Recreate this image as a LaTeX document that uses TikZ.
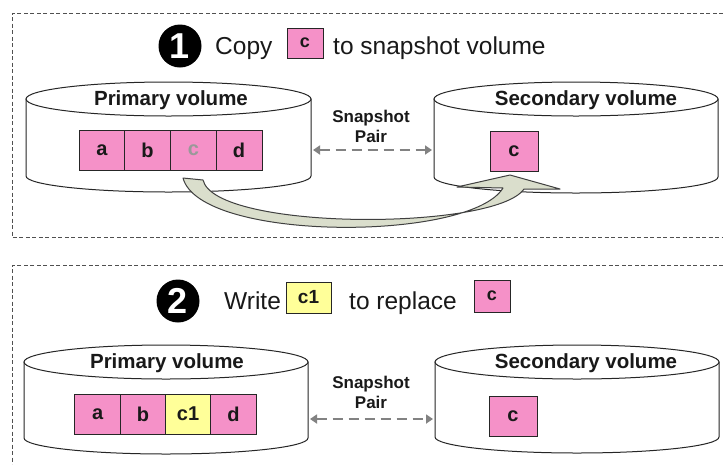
\documentclass[tikz,border=0pt]{standalone}
\usepackage{fontspec}
\setmainfont{Liberation Sans}
\usetikzlibrary{arrows.meta}
\definecolor{pinkblk}{RGB}{245,145,200}
\definecolor{yelblk}{RGB}{255,255,153}
\definecolor{arrowfill}{RGB}{218,222,204}
\definecolor{pairgray}{RGB}{130,130,130}
\definecolor{framegray}{RGB}{80,80,80}
\newcommand\drawcyl[4]{%
  \pgfmathsetmacro\cylcx{(#1+#2)/2}%
  \pgfmathsetmacro\cylrx{(#2-#1)/2}%
  \draw[cylline,fill=white] (#1,#3) -- (#1,#4) arc[start angle=180,end angle=360,x radius=\cylrx pt,y radius=16pt] -- (#2,#3) -- cycle;
  \draw[cylline,fill=white] (\cylcx,#3) ellipse[x radius=\cylrx pt,y radius=17pt];
}
\begin{document}
\begin{tikzpicture}[x=1pt,y=-1pt,
  frame/.style={draw=framegray,line width=0.9pt,dash pattern=on 4pt off 2.5pt},
  cylline/.style={draw=black!85,line width=1pt},
  blk/.style={draw=black!85,line width=0.9pt,minimum width=45.75pt,minimum height=40pt,inner sep=0pt,
    font=\fontsize{20}{22}\selectfont\bfseries,text=black!90},
  pinkb/.style={blk,fill=pinkblk},
  yelb/.style={blk,fill=yelblk},
  vollabel/.style={font=\fontsize{20.5}{22}\selectfont\bfseries,text=black!90},
  titletext/.style={font=\fontsize{24.5}{26}\selectfont,text=black!90,anchor=base west,inner sep=0pt},
  numcirc/.style={circle,fill=black,minimum size=43pt,inner sep=0pt,text=white,
    font=\fontsize{36}{36}\selectfont\bfseries},
  pairlabel/.style={align=center,font=\fontsize{17}{20}\selectfont\bfseries,text=black!90},
  pairarrow/.style={draw=pairgray,line width=2.8pt,dash pattern=on 10pt off 6pt,
    {Triangle[width=9pt,length=7pt]}-{Triangle[width=9pt,length=7pt]}},
  bigarrow/.style={draw=black!75,line width=1pt,fill=arrowfill,line join=round}]
\useasboundingbox (0,0) rectangle (723,464);
\fill[white] (0,0) rectangle (723,464);

% ---------- frames ----------
\draw[frame] (723,13) -- (12,13) -- (12,237) -- (723,237);
\draw[frame] (723,265) -- (12,265) -- (12,464);

% ---------- panel 1 ----------
\node[numcirc] (n1) at (180,46) {1};
\node[titletext] (t1a) at (215,54) {Copy};
\node[pinkb,minimum width=36pt,minimum height=30pt,font=\fontsize{18}{20}\selectfont\bfseries] (t1c) at (305,43) {c};
\node[titletext] (t1b) at (333,54) {to snapshot volume};

\drawcyl{26}{311}{99}{176}
\drawcyl{434}{718}{99}{177}
\node[vollabel] (pv1) at (171,100) {Primary volume};
\node[vollabel] (sv1) at (586,100) {Secondary volume};

\node[pinkb] (p1a) at (101.9,150) {a};
\node[pinkb] (p1b) at (147.6,150) {b};
\node[pinkb,text=black!40] (p1c) at (193.4,150) {c};
\node[pinkb] (p1d) at (239.1,150) {d};
\node[pinkb,minimum width=48pt] (s1c) at (514,151) {c};

\node[pairlabel] (sp1) at (371,126) {Snapshot\\Pair};
\coordinate (p1r) at (313,150);
\coordinate (s1l) at (432,150);
\draw[pairarrow] (p1r) -- (s1l);

% curved copy arrow
\coordinate (ca0) at (183,178);
\coordinate (ca1) at (503,188);
\coordinate (ca2) at (457,187);
\coordinate (ca3) at (510,175);
\coordinate (ca4) at (560,189);
\coordinate (ca5) at (524,189);
\coordinate (ca6) at (203,180);
\draw[bigarrow] (ca0) .. controls (200,242) and (470,242) .. (ca1)
  -- (ca2) -- (ca3) -- (ca4) -- (ca5)
  .. controls (495,231) and (215,231) .. (ca6) -- cycle;

% ---------- panel 2 ----------
\node[numcirc] (n2) at (178,301) {2};
\node[titletext] (t2a) at (224,309) {Write};
\node[yelb,minimum width=45pt,minimum height=31pt,font=\fontsize{19}{21}\selectfont\bfseries] (t2c1) at (308.5,297.5) {c1};
\node[titletext] (t2b) at (349,309) {to replace};
\node[pinkb,minimum width=36pt,minimum height=32pt,font=\fontsize{18}{20}\selectfont\bfseries] (t2c) at (492,296) {c};

\drawcyl{24}{308}{362}{438}
\drawcyl{435}{719}{362}{437}
\node[vollabel] (pv2) at (167,363) {Primary volume};
\node[vollabel] (sv2) at (586,363) {Secondary volume};

\node[pinkb] (p2a) at (97.6,414) {a};
\node[pinkb] (p2b) at (142.9,414) {b};
\node[yelb] (p2c) at (188.1,414) {c1};
\node[pinkb] (p2d) at (233.4,414) {d};
\node[pinkb,minimum width=48pt] (s2c) at (513,416) {c};

\node[pairlabel] (sp2) at (371,392) {Snapshot\\Pair};
\coordinate (p2r) at (310,419);
\coordinate (s2l) at (433,419);
\draw[pairarrow] (p2r) -- (s2l);
\end{tikzpicture}
\end{document}
